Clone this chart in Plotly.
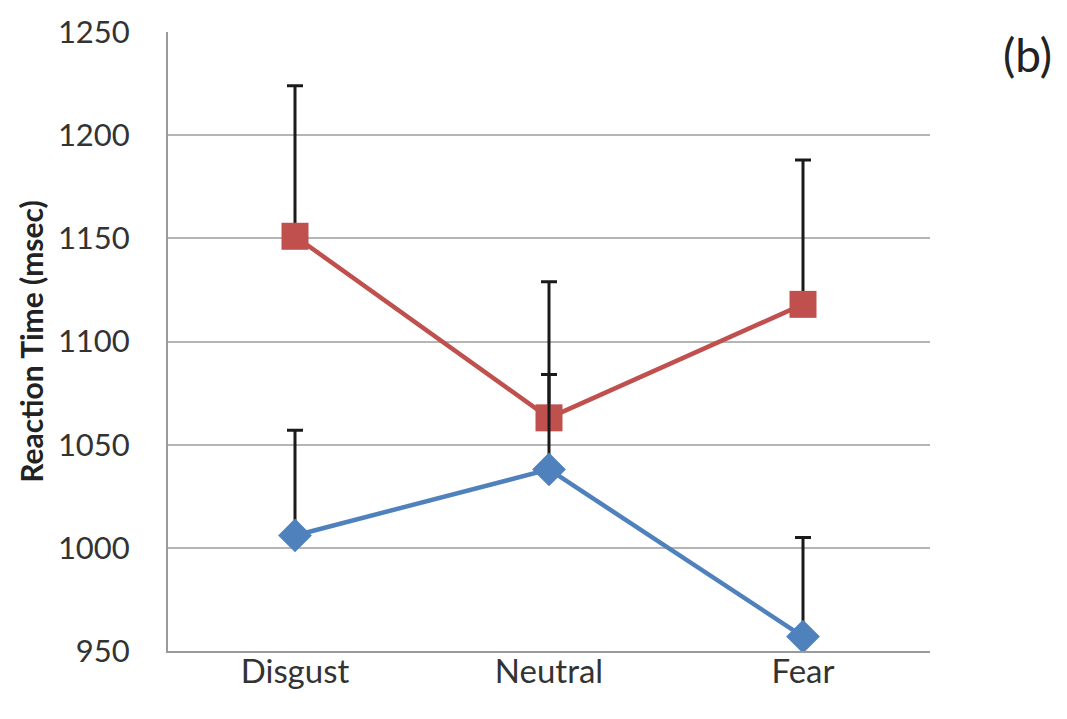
import plotly.graph_objects as go

categories = ["Disgust", "Neutral", "Fear"]
red_means = [1151, 1063, 1118]
red_err = [73, 66, 70]
blue_means = [1006, 1038, 957]
blue_err = [51, 46, 48]
y_ticks = [950, 1000, 1050, 1100, 1150, 1200, 1250]

RED = "#C0504D"
BLUE = "#4F81BD"
FONT = "Lato, 'Open Sans', sans-serif"

fig = go.Figure()
fig.add_trace(go.Scatter(
    x=categories, y=red_means, mode="lines+markers",
    line=dict(color=RED, width=4.5),
    marker=dict(symbol="square", size=27, color=RED),
    error_y=dict(type="data", array=red_err, arrayminus=[0, 0, 0],
                 symmetric=False, color="#1a1a1a", thickness=3, width=8),
    showlegend=False,
))
fig.add_trace(go.Scatter(
    x=categories, y=blue_means, mode="lines+markers",
    line=dict(color=BLUE, width=4.5),
    marker=dict(symbol="diamond", size=26, color=BLUE),
    error_y=dict(type="data", array=blue_err, arrayminus=[0, 0, 0],
                 symmetric=False, color="#1a1a1a", thickness=3, width=8),
    showlegend=False,
))

fig.update_layout(
    width=1067, height=719,
    margin=dict(l=168, r=137, t=25, b=68),
    paper_bgcolor="white", plot_bgcolor="white",
    font=dict(family=FONT, color="#333333"),
    xaxis=dict(
        type="category", range=[-0.5, 2.5],
        showgrid=False, showline=True, linecolor="#9a9a9a", linewidth=2,
        ticks="", tickfont=dict(size=33, family=FONT, color="#333333"),
        ticklabelstandoff=-10,
    ),
    yaxis=dict(
        range=[950, 1250], tickvals=y_ticks,
        showgrid=True, gridcolor="#b5b5b5", gridwidth=2,
        showline=True, linecolor="#9a9a9a", linewidth=2,
        zeroline=False, ticks="",
        tickfont=dict(size=31, family=FONT, color="#333333"),
        ticklabelstandoff=30,
        title=dict(text="<b>Reaction Time (msec)</b>",
                   font=dict(size=30, family=FONT, color="#222222"),
                   standoff=5),
    ),
    annotations=[dict(
        text="(b)", xref="paper", yref="paper", x=1.128, y=0.963,
        xanchor="center", yanchor="middle", showarrow=False,
        font=dict(size=46, family=FONT, color="#222222"),
    )],
)

fig.write_html("out.html")
